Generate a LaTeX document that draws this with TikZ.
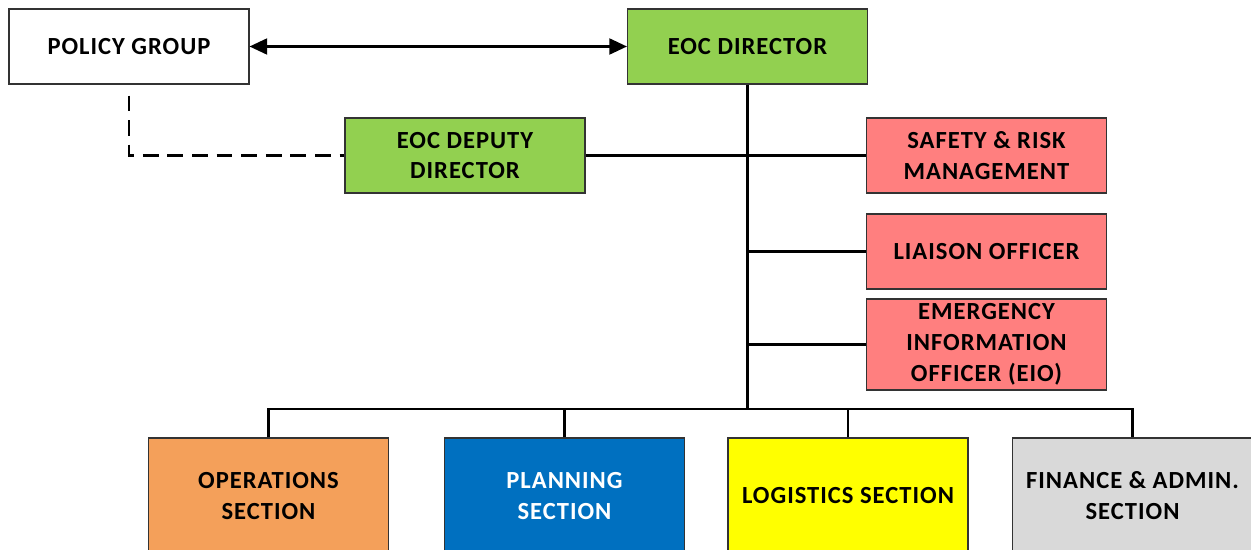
\documentclass[tikz,border=0pt]{standalone}
\usepackage{fontspec}
\setmainfont{Carlito}[LetterSpace=4]
\usepackage{xcolor}
\usepackage{tikz}
\usetikzlibrary{arrows.meta, calc}
\definecolor{eocgreen}{HTML}{92D050}
\definecolor{eocred}{HTML}{FF7F7F}
\definecolor{eocorange}{HTML}{F4A05A}
\definecolor{eocblue}{HTML}{0070C0}
\definecolor{eocyellow}{HTML}{FFFF00}
\definecolor{eocgray}{HTML}{D9D9D9}
\tikzset{
  >=latex,
  % box dell'organigramma
  box/.style={draw=black!80,line width=0.6pt,rectangle,minimum width=4.8cm,minimum height=1.5cm,
    inner sep=2pt,align=center,font=\fontsize{14}{17.6}\selectfont\bfseries,text=black},
  box white/.style={box,fill=white},
  box green/.style={box,fill=eocgreen},
  box red/.style={box,fill=eocred},
  box section/.style={box,minimum height=2.32cm},
  % connessioni
  connect/.style={line width=1.4pt,black},
  connect dashed/.style={connect,dash pattern=on 9pt off 5pt},
  connect arrow/.style={{Triangle[length=10pt,width=9pt]}-{Triangle[length=10pt,width=9pt]},connect}
}
\begin{document}
\begin{tikzpicture}
  \useasboundingbox (0,0) rectangle (25.02,-11.0);
  % livello alto
  \node[box white] (policy) at (2.58,-0.93) {POLICY GROUP};
  \node[box green] (director) at (14.95,-0.93) {EOC DIRECTOR};
  \node[box green] (deputy) at (9.30,-3.11) {EOC DEPUTY\\DIRECTOR};
  % staff
  \node[box red] (safety) at (19.73,-3.11) {SAFETY \& RISK\\MANAGEMENT};
  \node[box red] (liaison) at (19.73,-5.03) {LIAISON OFFICER};
  \node[box red,minimum height=1.82cm] (eio) at (19.73,-6.89) {EMERGENCY\\INFORMATION\\OFFICER (EIO)};
  % sezioni
  \node[box section,fill=eocorange] (ops) at (5.37,-9.92) {OPERATIONS\\SECTION};
  \node[box section,fill=eocblue,text=white] (plan) at (11.29,-9.92) {PLANNING\\SECTION};
  \node[box section,fill=eocyellow] (logi) at (16.96,-9.92) {LOGISTICS SECTION};
  \node[box section,fill=eocgray] (fin) at (22.65,-9.92) {FINANCE \& ADMIN.\\SECTION};
  \coordinate (bus) at (14.95,-8.18);
  % collegamenti
  \draw[connect arrow] (policy) -- (director);
  \draw[connect] (director.south) -- (bus);
  \draw[connect] (deputy.east) -- (safety.west);
  \draw[connect] (liaison.west) -- (liaison.west -| director.south);
  \draw[connect] (eio.west) -- (eio.west -| director.south);
  \draw[connect dashed] ([yshift=-0.22cm]policy.south) |- (deputy.west);
  \draw[connect] (ops.north) |- (bus) -| (fin.north);
  \draw[connect] (plan.north) -- (plan.north |- bus);
  \draw[connect] (logi.north) -- (logi.north |- bus);
\end{tikzpicture}
\end{document}
